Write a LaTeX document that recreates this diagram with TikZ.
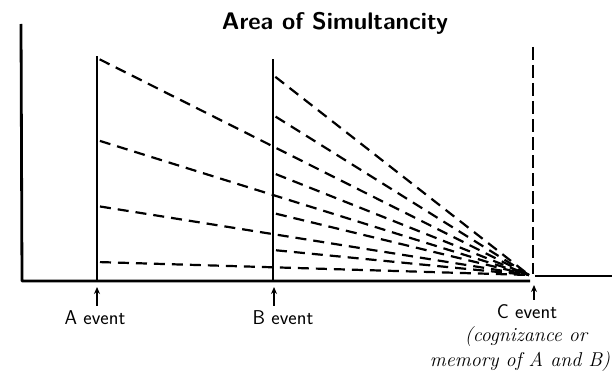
\documentclass[tikz,border=0pt]{standalone}
\usepackage{fontspec}
\usepackage{tikz}
\usetikzlibrary{arrows.meta, positioning, calc}

\begin{document}
\begin{tikzpicture}[x=1pt, y=-1pt,
  axis/.style={line width=2.8pt, line join=round},
  eventline/.style={line width=1.8pt},
  fan/.style={line width=2.2pt, dash pattern=on 11pt off 7pt, shorten <=3pt},
  lbl/.style={font=\sffamily\fontsize{20}{22}\selectfont, inner sep=0pt},
  note/.style={font=\itshape\fontsize{20}{22}\selectfont, inner sep=0pt},
  pointer/.style={-{Stealth[length=7pt, width=6pt]}, line width=1.3pt, shorten <=5pt}
]
\useasboundingbox (0,0) rectangle (612,377);

\node[font=\sffamily\bfseries\fontsize{24}{26}\selectfont] (title) at (335,23) {Area of Simultancity};

% axes
\coordinate (top) at (21,24);
\coordinate (orig) at (22,281);
\coordinate (cfoot) at (530,281);
\coordinate (cjoin) at (535,276);
\coordinate (xend) at (612,276);
\draw[axis] (top) -- (orig) -- (cfoot);
\draw[axis] (cjoin) -- (xend);

% event lines
\coordinate (Abase) at (97,281);
\coordinate (Atop) at (97,56);
\coordinate (Bbase) at (273,281);
\coordinate (Btop) at (273,59);
\coordinate (Cbase) at (533,274);
\coordinate (Ctop) at (533,47);
\coordinate (focus) at (529,275);
\draw[eventline] (Abase) -- (Atop);
\draw[eventline] (Bbase) -- (Btop);
\draw[line width=2.4pt, dash pattern=on 13pt off 5pt] (Ctop) -- (Cbase);

% dashed lines running on to C
\foreach \y [count=\i] in {58,140,206,262}{
  \coordinate (a\i) at (97,\y);
  \draw[fan] (a\i) -- (focus);
}
\foreach \y [count=\i] in {75,115,173,213,250}{
  \coordinate (b\i) at (273,\y);
  \draw[fan] (b\i) -- (focus);
}

% labels
\node[lbl] (Alab) at (95,318) {A event};
\node[lbl] (Blab) at (283,318) {B event};
\node[lbl] (Clab) at (527,312) {C event};
\node[note] (note1) at (526,337) {(cognizance or};
\node[note] (note2) at (520,362) {memory of A and B)};

\coordinate (Atip) at (97,287);
\coordinate (Btip) at (274,287);
\coordinate (Ctip) at (534,285);
\draw[pointer] (Atip |- Alab.north) -- (Atip);
\draw[pointer] (Btip |- Blab.north) -- (Btip);
\draw[pointer] (Ctip |- Clab.north) -- (Ctip);
\end{tikzpicture}
\end{document}
